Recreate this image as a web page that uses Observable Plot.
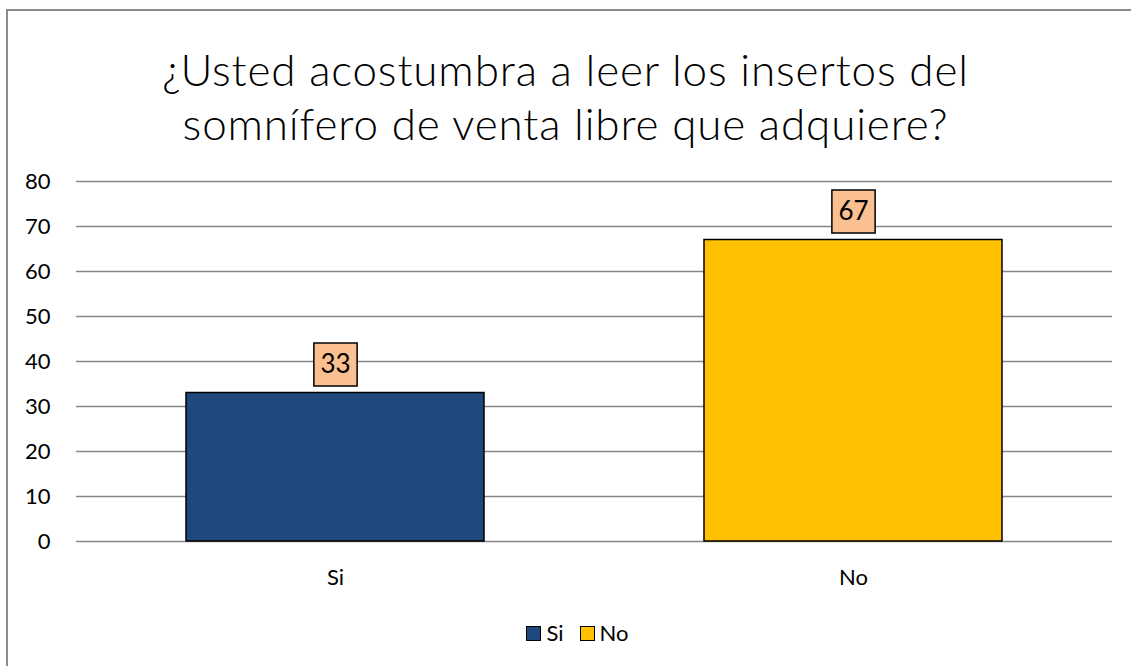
<!DOCTYPE html>
<html>
<head>
<meta charset="utf-8">
<script src="https://cdn.jsdelivr.net/npm/d3@7"></script>
<script src="https://cdn.jsdelivr.net/npm/@observablehq/plot@0.6"></script>
<style>
  html, body { margin: 0; padding: 0; background: #fff; overflow: hidden; }
  body { width: 1131px; height: 666px; position: relative; font-family: Lato, "Liberation Sans", sans-serif; }
  #frame { position: absolute; left: 6px; top: 9px; width: 1140px; height: 680px; border-left: 2px solid #8c8c8c; border-top: 2px solid #8c8c8c; box-sizing: border-box; }
  #title { position: absolute; left: 0; top: 42px; width: 1131px; text-align: center; font-size: 44px; font-weight: 300; line-height: 54px; letter-spacing: 0.85px; color: #000; }
  #chart { position: absolute; left: 0; top: 160px; }
  #legend { position: absolute; left: 12px; top: 619px; width: 1131px; text-align: center; font-size: 22px; color: #000; }
  .sw { display: inline-block; width: 13px; height: 13px; border: 1px solid #000; vertical-align: 0px; margin-right: 5px; }
  .item { margin: 0 8px; }
</style>
</head>
<body>
<div id="frame"></div>
<div id="title">¿Usted acostumbra a leer los insertos del<br>somnífero de venta libre que adquiere?</div>
<div id="chart"></div>
<div id="legend"></div>
<script>
const categories = ["Si", "No"];
const values = [33, 67];
const colors = ["#1F497D", "#FFC000"];
const yTicks = [0, 10, 20, 30, 40, 50, 60, 70, 80];

const data = categories.map((c, i) => ({category: c, value: values[i]}));

const chart = Plot.plot({
  width: 1131,
  height: 440,
  marginTop: 21,
  marginBottom: 59,
  marginLeft: 76,
  marginRight: 19,
  style: {fontFamily: "Lato, 'Liberation Sans', sans-serif", fontSize: "22px", color: "#000", background: "transparent"},
  x: {domain: categories, paddingInner: 0.425, paddingOuter: 0.2125, label: null, tickSize: 0, tickPadding: 28},
  y: {domain: [0, 80], ticks: yTicks, label: null, tickSize: 0, tickPadding: 26},
  color: {domain: categories, range: colors},
  marks: [
    Plot.ruleY(yTicks, {stroke: "#868686", strokeWidth: 1.5}),
    Plot.barY(data, {x: "category", y: "value", fill: "category", stroke: "#000", strokeWidth: 1.5}),
    Plot.dot(data, {x: "category", y: "value", dy: -28.5, symbol: "square", r: 24.4, fill: "#FAC090", stroke: "#000", strokeWidth: 1.5}),
    Plot.text(data, {x: "category", y: "value", dy: -28.5, text: d => String(d.value), fontSize: 26, fill: "#000"})
  ]
});
document.getElementById("chart").appendChild(chart);

const legend = document.getElementById("legend");
categories.forEach((c, i) => {
  const item = document.createElement("span");
  item.className = "item";
  const sw = document.createElement("span");
  sw.className = "sw";
  sw.style.background = colors[i];
  item.appendChild(sw);
  item.appendChild(document.createTextNode(c));
  legend.appendChild(item);
});
</script>
</body>
</html>
